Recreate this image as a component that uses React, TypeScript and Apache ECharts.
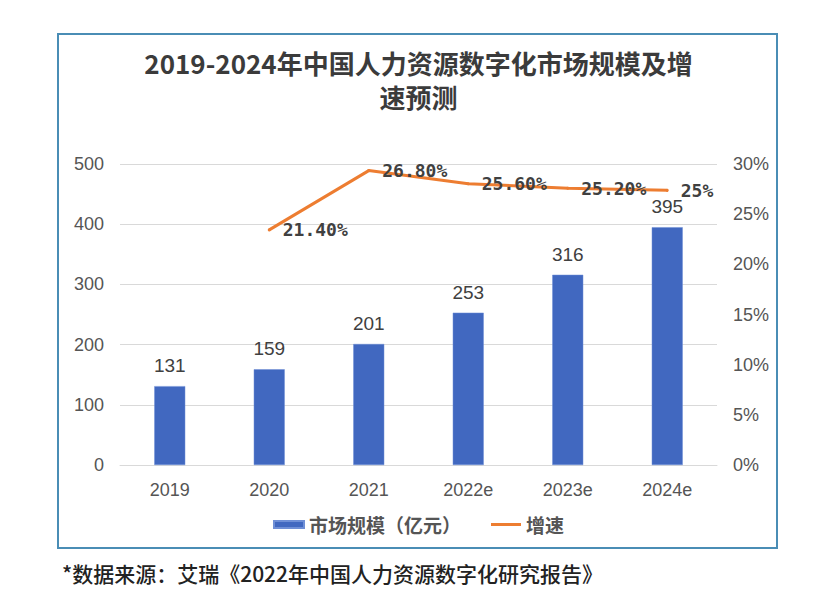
import React, { useEffect, useRef } from "react";
import * as echarts from "echarts";

const categories = ["2019", "2020", "2021", "2022e", "2023e", "2024e"];
const marketSize = [131, 159, 201, 253, 316, 395];
const growthRate: (number | null)[] = [null, 21.4, 26.8, 25.6, 25.2, 25];
const leftTicks = { min: 0, max: 500, interval: 100 };
const rightTicks = { min: 0, max: 30, interval: 5 };

const titleText = "2019-2024年中国人力资源数字化市场规模及增\n速预测";
const sourceText = "*数据来源：艾瑞《2022年中国人力资源数字化研究报告》";
const barName = "市场规模（亿元）";
const lineName = "增速";

export default function App() {
  const ref = useRef<HTMLDivElement>(null);
  useEffect(() => {
    if (!ref.current) return;
    const chart = echarts.init(ref.current, null, { renderer: "svg" });
    const axisLabel = { color: "#555555", fontSize: 18, fontFamily: "Liberation Sans, Arial, sans-serif" };
    chart.setOption({
      animation: false,
      backgroundColor: "#ffffff",
      title: {
        text: titleText,
        left: "center",
        top: 40,
        textStyle: {
          fontSize: 26,
          fontWeight: "bold",
          color: "#3b3b3b",
          lineHeight: 34,
          align: "center",
          fontFamily: "Noto Sans CJK SC, sans-serif",
        },
      },
      legend: {
        left: "center",
        top: 510,
        itemWidth: 30,
        itemHeight: 7,
        itemGap: 30,
        textStyle: { fontSize: 19, color: "#555555", fontFamily: "Noto Sans CJK SC, sans-serif", fontWeight: "bold" },
        data: [
          { name: barName, icon: "rect" },
          { name: lineName, icon: "path://M0,0H30V3H0Z", itemStyle: { color: "#ED7D31" } },
        ],
      },
      grid: { left: 120, right: 120, top: 164, bottom: 142, containLabel: false },
      xAxis: {
        type: "category",
        data: categories,
        axisLine: { lineStyle: { color: "#d9d9d9", width: 1 } },
        axisTick: { show: false },
        axisLabel: { ...axisLabel, margin: 16 },
      },
      yAxis: [
        {
          type: "value",
          ...leftTicks,
          axisLine: { show: false },
          axisTick: { show: false },
          splitLine: { lineStyle: { color: "#d9d9d9", width: 1 } },
          axisLabel: { ...axisLabel, margin: 16 },
        },
        {
          type: "value",
          position: "right",
          ...rightTicks,
          axisLine: { show: false },
          axisTick: { show: false },
          splitLine: { show: false },
          axisLabel: { ...axisLabel, margin: 16, formatter: "{value}%" },
        },
        {
          type: "value",
          show: false,
          min: 0,
          max: 27.4,
          splitLine: { show: false },
        },
      ],
      series: [
        {
          name: barName,
          type: "bar",
          data: marketSize,
          yAxisIndex: 0,
          barWidth: 31,
          itemStyle: { color: "#4168C0", borderColor: "#6f8fd6", borderWidth: 0.5 },
          label: {
            show: true,
            position: "top",
            distance: 11,
            fontSize: 19,
            color: "#404040",
            fontFamily: "Liberation Sans, Arial, sans-serif",
          },
        },
        {
          name: lineName,
          type: "line",
          data: growthRate,
          yAxisIndex: 2,
          symbol: "circle",
          symbolSize: 3,
          showSymbol: true,
          connectNulls: false,
          lineStyle: { color: "#ED7D31", width: 3 },
          itemStyle: { color: "#ED7D31" },
          label: {
            show: true,
            position: "right",
            distance: 12,
            fontSize: 18,
            fontWeight: "bold",
            color: "#404040",
            fontFamily: "DejaVu Sans Mono, monospace",
            formatter: (p: any) => {
              const v = p.value as number;
              return Number.isInteger(v) ? `${v}%` : `${v.toFixed(2)}%`;
            },
          },
        },
      ],
      graphic: [
        {
          type: "rect",
          shape: { x: 58, y: 34, width: 719, height: 514 },
          style: { fill: "none", stroke: "#4A8DB5", lineWidth: 2 },
          z: -1,
        },
        {
          type: "text",
          left: 62,
          top: 562,
          style: {
            text: sourceText,
            fontSize: 21,
            fontWeight: 500,
            fill: "#222222",
            fontFamily: "Noto Sans CJK SC, sans-serif",
          },
        },
      ],
    });
    return () => chart.dispose();
  }, []);
  return <div ref={ref} style={{ position: "absolute", left: 0, top: 0, width: 837, height: 607 }} />;
}
